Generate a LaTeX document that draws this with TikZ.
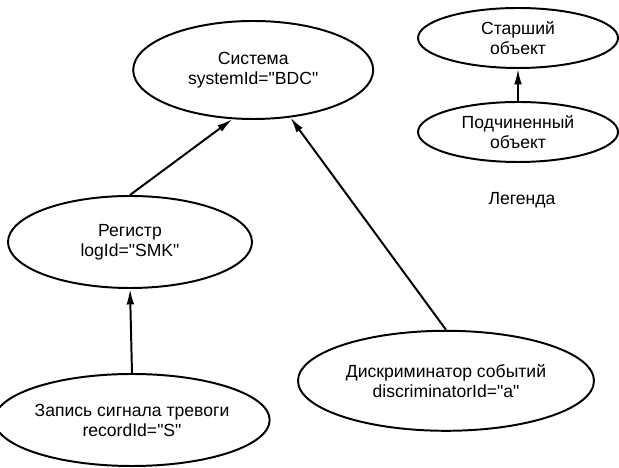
\documentclass[tikz,border=0pt]{standalone}
\usepackage{fontspec}
\setmainfont{Liberation Sans}[Ligatures=TeXOff]
\usetikzlibrary{shapes.geometric,arrows.meta}

\begin{document}
\begin{tikzpicture}[
    obj/.style={draw, ellipse, line width=1.4pt, inner sep=0pt, align=center,
      font=\fontsize{12.5}{14.2}\selectfont},
    arr/.style={-{Latex[length=11pt,width=5.5pt]}, line width=1.4pt}
  ]
      \useasboundingbox (0, 0) rectangle (15.475, 11.7);

      \draw (6.33, 9.95) node[obj, minimum width=6cm, minimum height=2.45cm] (sys) {Система\\systemId="BDC"};
      \draw (3.25, 5.65) node[obj, minimum width=6.1cm, minimum height=2.3cm] (reg) {Регистр\\logId="SMK"};
      \draw (3.3, 1.2) node[obj, minimum width=6.05cm, minimum height=2.3cm] (rec) {Запись сигнала тревоги\\recordId="S"};
      \draw (11.15, 2.18) node[obj, minimum width=7.4cm, minimum height=2.5cm] (disc) {Дискриминатор событий\\discriminatorId="a"};

      % legend
      \draw (12.95, 10.75) node[obj, minimum width=5cm, minimum height=1.5cm] (senior) {Старший\\объект};
      \draw (12.95, 8.4) node[obj, minimum width=5cm, minimum height=1.5cm] (junior) {Подчиненный\\объект};
      \draw (13.05, 6.7) node[font=\fontsize{12.5}{14.2}\selectfont] (legend) {Легенда};

      \draw [arr] (reg.north) -- (sys.247);
      \draw [arr] (disc.north) -- (sys.308);
      \draw [arr] (rec.north) -- (reg.south);
      \draw [arr] (junior.north) -- (senior.south);
\end{tikzpicture}
\end{document}
